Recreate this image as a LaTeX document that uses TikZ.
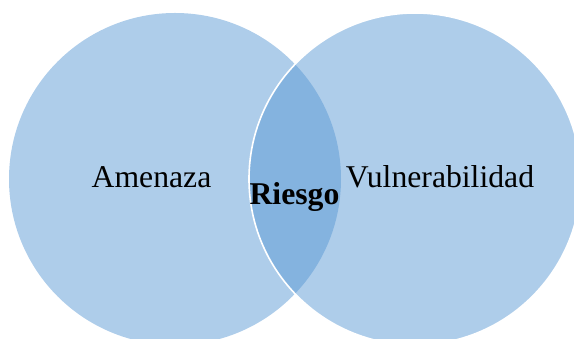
\documentclass[tikz,border=0pt]{standalone}
\usepackage{fontspec}
\setmainfont{Liberation Serif}
\definecolor{lightblue}{HTML}{AECDEA}
\definecolor{darkblue}{HTML}{84B3DF}
\begin{document}
\begin{tikzpicture}[x=1pt,y=1pt,
  setcircle/.style={circle, inner sep=0pt, minimum size=332pt, fill=lightblue},
  lbl/.style={anchor=base, inner sep=0pt, font=\fontsize{31.7}{36}\selectfont}]
\useasboundingbox (0,0) rectangle (574,339);
\node[setcircle] (L) at (175,160) {};
\node[setcircle] (R) at (415,160) {};
\begin{scope}
  \clip (175,160) circle (166);
  \fill[darkblue] (415,160) circle (166);
\end{scope}
\draw[white, line width=1.6pt] (415,160) circle (166);
\node[lbl] (amenaza) at (151.5,151) {Amenaza};
\node[lbl] (vuln) at (440,151) {Vulnerabilidad};
\node[lbl, font=\fontsize{31.7}{36}\selectfont\bfseries] (riesgo) at (294.5,134) {Riesgo};
\end{tikzpicture}
\end{document}
